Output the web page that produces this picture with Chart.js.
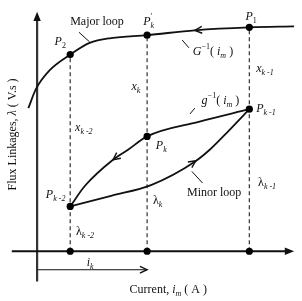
<!DOCTYPE html>
<html><head><meta charset="utf-8">
<script src="https://cdn.jsdelivr.net/npm/chart.js@4/dist/chart.umd.min.js"></script>
<style>html,body{margin:0;padding:0;background:#fff}canvas{display:block}</style>
</head><body>
<canvas id="c" width="302" height="301"></canvas>
<script>
// Data (current i, flux linkage λ) in arbitrary units, origin at axis crossing
const majorLoop = [{x:-9,y:147},{x:-1,y:167},{x:13,y:186},{x:34,y:202},{x:54,y:214},{x:76,y:219},{x:113,y:222},{x:162,y:227},{x:218,y:230},{x:264,y:231}];
const upperBranch = [{x:34,y:46},{x:49,y:67},{x:78,y:94},{x:93,y:104},{x:113,y:118},{x:166,y:133},{x:218,y:146}];
const lowerBranch = [{x:34,y:46},{x:76,y:57},{x:117,y:68},{x:162,y:92},{x:177,y:104},{x:197,y:124},{x:218,y:146}];
const keyPoints = [{x:34,y:202},{x:113,y:222},{x:218,y:230},{x:218,y:146},{x:113,y:118},{x:34,y:46},{x:34,y:0},{x:113,y:0},{x:218,y:0}];
const dropX = [34,113,218];
const dropTop = [202,222,230];
const xAxisLine = [{x:-26,y:0},{x:258,y:0}];
const yAxisLine = [{x:0,y:-31},{x:0,y:238}];
const ikLine = [{x:0,y:-19},{x:113,y:-19}];
// arrows: [fromX, fromY, tipX, tipY, kind]
const arrows = [
  [176,228,162,227,'open'],
  [90,103,78,94,'open'],
  [150,84,163,93,'open'],
  [100,-19,113,-19,'open'],
  [0,230,0,246,'fill'],
  [250,0,264,0,'fill']
];
const leaders = [[43,225,54,215],[149,217,156,209],[157,141,162,147],[159,82,170,70]];
const I = true;
const labels = [
  {x:34,y:232,p:[["Major loop"]]},
  {x:18,y:212,p:[["P",I],["2",0,"sub"]]},
  {x:109,y:232,p:[["P",I],["′",0,"sup"],["k",I,"subk"]]},
  {x:214,y:238,p:[["P",I],["1",0,"sub"]]},
  {x:160,y:202,p:[["G",I],["−1",0,"sup"],["( "],["i",I],["m",I,"sub"],[" )"]]},
  {x:225,y:184,p:[["x",I],["k -1",I,"sub"]]},
  {x:97,y:166,p:[["x",I],["k",I,"sub"]]},
  {x:39,y:124,p:[["x",I],["k -2",I,"sub"]]},
  {x:169,y:151,p:[["g",I],["−1",0,"sup"],["( "],["i",I],["m",I,"sub"],[" )"]]},
  {x:225,y:143,p:[["P",I],["k -1",I,"sub"]]},
  {x:122,y:105,p:[["P",I],["k",I,"sub"]]},
  {x:9,y:55,p:[["P",I],["k -2",I,"sub"]]},
  {x:40,y:17,p:[["λ"],["k -2",I,"sub"]]},
  {x:119,y:49,p:[["λ"],["k",I,"sub"]]},
  {x:154,y:57,p:[["Minor loop"]]},
  {x:227,y:67,p:[["λ"],["k -1",I,"sub"]]},
  {x:51,y:-15,p:[["i",I],["k",I,"sub"]]},
  {x:95,y:-43,p:[["Current, "],["i",I],["m",I,"sub"],[" ( A )"]]}
];
const yTitle = {x:-22,y:120,p:[["Flux Linkages, "],["λ",I],[" ( V.s )"]]};

const FONT = '"Liberation Serif", "DejaVu Serif", serif';
function drawRich(ctx, x, y, parts, center){
  const segs = parts.map(([t,it,kind])=>{
    const size = kind ? 8 : 12;
    ctx.font = (it?'italic ':'') + size + 'px ' + FONT;
    const m = ctx.measureText(t).width;
    return {t, font:ctx.font, kind, m};
  });
  let cx = x;
  if (center) { let tot=0; segs.forEach((s)=>{ if(s.kind!=='subk') tot+=s.m; }); cx = x - tot/2; }
  let lastSupX = null;
  segs.forEach((s)=>{
    ctx.font = s.font;
    let dy = 0, px = cx;
    if (s.kind==='sub') dy = 3;
    if (s.kind==='sup') { dy = -6; lastSupX = cx; }
    if (s.kind==='subk') { dy = 3; px = lastSupX; }
    ctx.fillText(s.t, px, y+dy);
    if (s.kind!=='subk') cx += s.m; else cx = Math.max(cx, px + s.m);
  });
}

const overlay = {
  id:'overlay',
  afterDatasetsDraw(chart){
    const ctx = chart.ctx, xs = chart.scales.x, ys = chart.scales.y;
    const X = v=>xs.getPixelForValue(v), Y = v=>ys.getPixelForValue(v);
    ctx.save();
    ctx.strokeStyle = '#111'; ctx.fillStyle = '#111';
    ctx.lineWidth = 1;
    leaders.forEach(([a,b,c,d])=>{ctx.beginPath();ctx.moveTo(X(a),Y(b));ctx.lineTo(X(c),Y(d));ctx.stroke();});
    arrows.forEach(([fx,fy,tx,ty,kind])=>{
      const x1=X(fx),y1=Y(fy),x2=X(tx),y2=Y(ty);
      const ang = Math.atan2(y2-y1,x2-x1);
      const L = kind==='fill'?10:8, hw = kind==='fill'?0.38:0.45;
      const ax = x2 - L*Math.cos(ang-hw), ay = y2 - L*Math.sin(ang-hw);
      const bx = x2 - L*Math.cos(ang+hw), by = y2 - L*Math.sin(ang+hw);
      ctx.beginPath();
      if (kind==='fill'){ctx.moveTo(x2,y2);ctx.lineTo(ax,ay);ctx.lineTo(bx,by);ctx.closePath();ctx.fill();}
      else {ctx.lineWidth=1.4;ctx.moveTo(ax,ay);ctx.lineTo(x2,y2);ctx.lineTo(bx,by);ctx.stroke();}
    });
    ctx.fillStyle = '#111'; ctx.textBaseline = 'alphabetic';
    labels.forEach(l=>drawRich(ctx, X(l.x), Y(l.y), l.p, false));
    ctx.save();
    ctx.translate(X(yTitle.x), Y(yTitle.y));
    ctx.rotate(-Math.PI/2);
    drawRich(ctx, 0, 0, yTitle.p, true);
    ctx.restore();
    ctx.restore();
  }
};

const curve = (data)=>({data, showLine:true, borderColor:'#111', borderWidth:1.8, pointRadius:0, cubicInterpolationMode:'monotone', fill:false});
const straight = (data, w, dash, color)=>({data, showLine:true, borderColor:color||'#111', borderWidth:w, borderDash:dash||[], pointRadius:0, tension:0, fill:false});

new Chart(document.getElementById('c'), {
  type:'scatter',
  data:{datasets:[
    {data:keyPoints, pointRadius:3.6, pointBackgroundColor:'#000', pointBorderColor:'#000', pointBorderWidth:0, showLine:false},
    curve(majorLoop), curve(upperBranch), curve(lowerBranch),
    ...dropX.map((x,i)=>straight([{x:x,y:0},{x:x,y:dropTop[i]}],1.2,[4,3],'#333')),
    straight(xAxisLine,1.8), straight(yAxisLine,2.2,null,'#333'), straight(ikLine,1)
  ]},
  options:{
    responsive:false, devicePixelRatio:1, animation:false,
    layout:{padding:0},
    plugins:{legend:{display:false}, tooltip:{enabled:false}},
    scales:{
      x:{type:'linear', display:false, min:-34, max:268},
      y:{type:'linear', display:false, min:-47, max:254}
    },
    clip:false
  },
  plugins:[overlay]
});
</script>
</body></html>
